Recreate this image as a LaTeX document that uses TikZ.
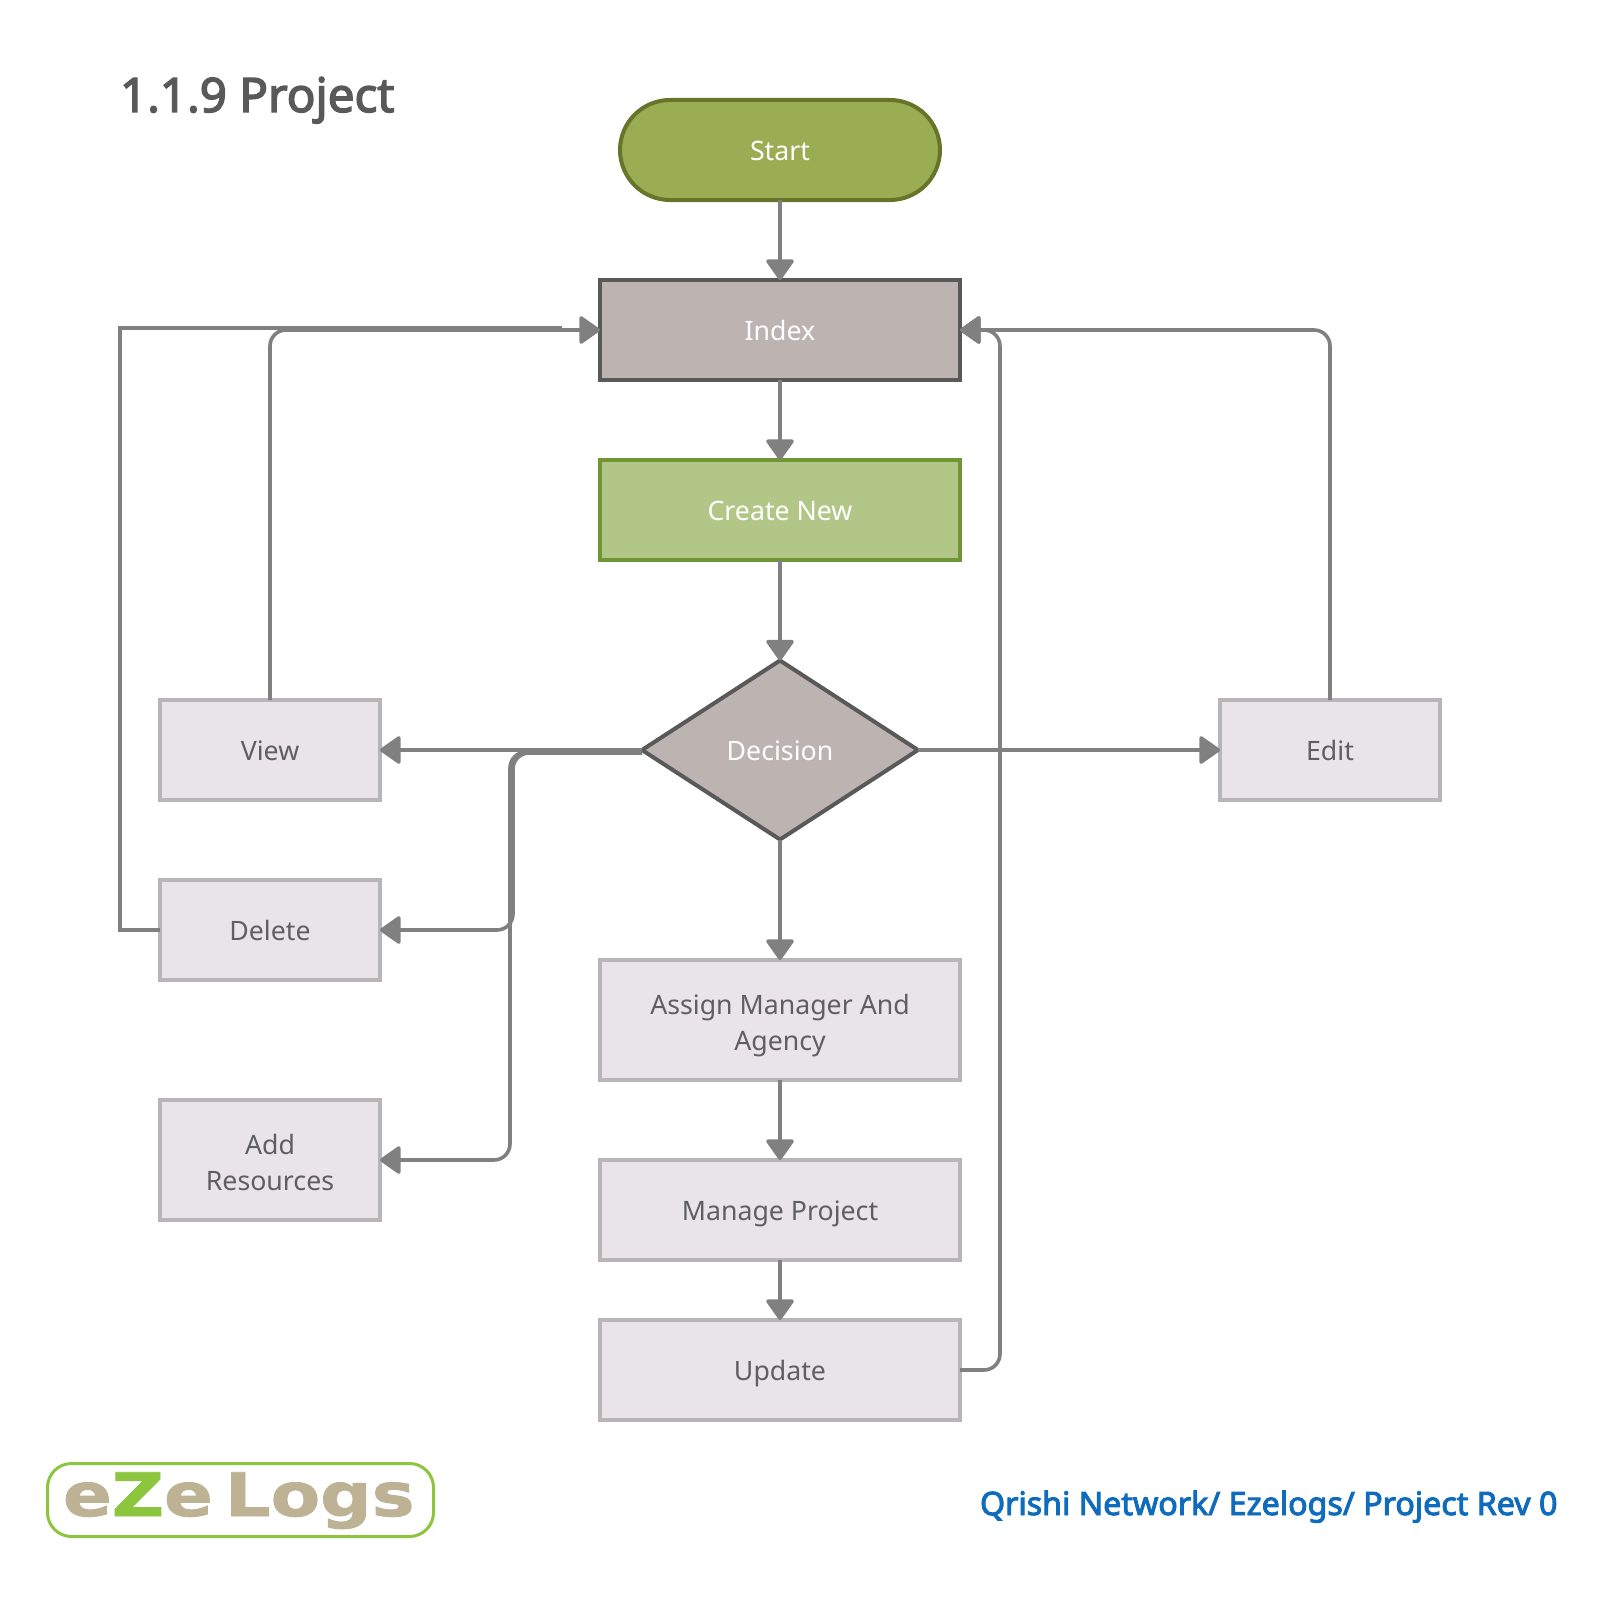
\documentclass[tikz,border=0pt]{standalone}
\usepackage{fontspec}
\setmainfont{Noto Sans}
\newfontfamily\semibold[FakeBold=3]{Noto Sans}
\newfontfamily\logofont[FakeStretch=1.2,FakeBold=1.5]{DejaVu Sans Bold}
\usetikzlibrary{arrows.meta,shapes.geometric}
\definecolor{linegrey}{HTML}{808080}
\definecolor{darkedge}{HTML}{595959}
\definecolor{taupe}{HTML}{BDB3B1}
\definecolor{pale}{HTML}{E8E4E8}
\definecolor{paleedge}{HTML}{B8B5B8}
\definecolor{greyink}{HTML}{5F5F5F}
\definecolor{startfill}{HTML}{9BAD52}
\definecolor{startedge}{HTML}{66752A}
\definecolor{newfill}{HTML}{B2C687}
\definecolor{newedge}{HTML}{6F9632}
\definecolor{logogreen}{HTML}{8CC63F}
\definecolor{logotan}{HTML}{BEB294}
\definecolor{footblue}{HTML}{0F6CBD}
\newcommand\topstrut{\rule{0pt}{28pt}}
\newcommand\twolinestrut{\rule{0pt}{32.5pt}}
\newcommand\botstrut{\rule[-8pt]{0pt}{8pt}}
\tikzset{
  x=1pt,y=-1pt,
  plaintext/.style={outer sep=0pt,inner sep=0pt},
  base/.style={plaintext,align=center,font=\fontsize{26.7}{36}\selectfont,
    execute at begin node=\topstrut,execute at end node=\botstrut},
  palebox/.style={base,rectangle,draw=paleedge,fill=pale,line width=4pt,text=greyink,minimum width=#1},
  palebox/.default=220pt,
  link/.style={draw=linegrey,line width=3.6pt,-{Triangle[length=22pt,width=30pt,round]}},
  plain/.style={draw=linegrey,line width=3.6pt},
  elbow/.style={link,rounded corners=16pt},
}
\begin{document}
\begin{tikzpicture}
\useasboundingbox (0,0) rectangle (1620,1600);
\fill[white] (0,0) rectangle (1620,1600);

\node[plaintext,anchor=base west,text=darkedge,font=\semibold\fontsize{47.5}{50}\selectfont] (title) at (120,112) {1.1.9 Project};

\coordinate (deltop) at (120,328);
\coordinate (delend) at (562,328);
\coordinate (railleft) at (510,1000);
\coordinate (railmid) at (513,850);
\coordinate (railright) at (1000,800);

\node[base,rounded corners=50pt,draw=startedge,fill=startfill,line width=4pt,text=white,minimum width=320pt,minimum height=100pt] (start) at (780,150) {\raisebox{-1pt}{Start}};
\node[base,draw=darkedge,fill=taupe,line width=4pt,text=white,minimum width=360pt,minimum height=100pt] (index) at (780,330) {Index};
\node[base,draw=newedge,fill=newfill,line width=3.5pt,text=white,minimum width=360pt,minimum height=100pt] (new) at (780,510) {Create New};
\node[base,diamond,aspect=1.542,draw=darkedge,fill=taupe,line width=4pt,text=white,minimum width=276pt,minimum height=179pt] (dec) at (780,750) {Decision};

\node[palebox,minimum height=100pt] (view) at (270,750) {View};
\node[palebox,minimum height=100pt] (del) at (270,930) {Delete};
\node[palebox,minimum height=120pt] (add) at (270,1160) {\twolinestrut Add\\Resources};
\node[palebox,minimum height=100pt] (edit) at (1330,750) {Edit};
\node[palebox=360pt,minimum height=120pt] (assign) at (780,1020) {\twolinestrut Assign Manager And\\Agency};
\node[palebox=360pt,minimum height=100pt] (manage) at (780,1210) {Manage Project};
\node[palebox=360pt,minimum height=100pt] (update) at (780,1370) {Update};

\draw[link] (start) -- (index);
\draw[link] (index) -- (new);
\draw[link] (new) -- (dec);
\draw[link] (dec) -- (assign);
\draw[link] (assign) -- (manage);
\draw[link] (manage) -- (update);
\draw[link] (dec.west) -- (view.east);
\draw[link] (dec.east) -- (edit.west);
\draw[elbow] ([yshift=-3pt]dec.west) -| (railmid) |- (del.east);
\draw[elbow] ([yshift=-2pt]dec.west) -| (railleft) |- (add.east);
\draw[elbow] (view.north) |- (index.west);
\draw[plain] (del.west) -| (deltop) -- (delend);
\draw[elbow] (edit.north) |- (index.east);
\draw[elbow] (update.east) -| (railright) |- (index.east);

\node[draw=logogreen,line width=3pt,rounded corners=24pt,minimum width=386pt,minimum height=73pt,outer sep=0pt] (logobox) at (240.5,1500) {};
\node[plaintext,anchor=base west,font=\logofont\fontsize{60}{64}\selectfont] (logotext) at (63,1516) {\textcolor{logotan}{e}\textcolor{logogreen}{Z}\textcolor{logotan}{e}\hspace{12pt}\textcolor{logotan}{Logs}};

\node[plaintext,anchor=base west,text=footblue,font=\semibold\fontsize{32.2}{36}\selectfont] (foot) at (980,1515) {Qrishi Network/ Ezelogs/ Project Rev 0};
\end{tikzpicture}
\end{document}
